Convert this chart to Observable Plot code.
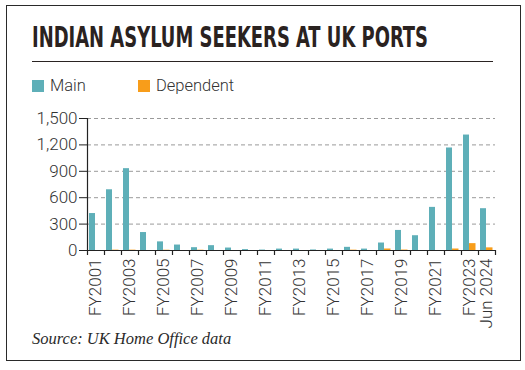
<!DOCTYPE html>
<html>
<head>
<meta charset="utf-8">
<script src="https://cdn.jsdelivr.net/npm/d3@7"></script>
<script src="https://cdn.jsdelivr.net/npm/@observablehq/plot@0.6"></script>
<style>
  html, body { margin: 0; padding: 0; background: #fff; }
  #wrap { position: relative; width: 525px; height: 370px; overflow: hidden; background: #fff; }
  #frame { position: absolute; left: 6px; top: 5px; width: 513px; height: 354px; border: 1.5px solid #2a2a2a; }
  #title { position: absolute; left: 32px; top: 22px; font-family: "DejaVu Sans Condensed", "DejaVu Sans", sans-serif; font-weight: bold; font-size: 28px; line-height: 32px; color: #2a2220; white-space: nowrap; transform-origin: 0 0; }
  #rule { position: absolute; left: 32px; top: 61px; width: 461px; height: 0; border-top: 1.5px solid #2a2322; }
  .leg { position: absolute; top: 76px; font-family: Roboto, "Liberation Sans", sans-serif; font-weight: 300; font-size: 16.5px; color: #333; display: flex; align-items: center; }
  .sw { display: inline-block; width: 12px; height: 12px; margin-right: 6px; }
  #chart { position: absolute; left: 0; top: 100px; }
  #source { position: absolute; left: 32px; top: 329px; font-family: "Liberation Serif", "DejaVu Serif", serif; font-style: italic; font-size: 16.5px; color: #2a2a2a; }
</style>
</head>
<body>
<div id="wrap">
  <div id="frame"></div>
  <div id="title">INDIAN ASYLUM SEEKERS AT UK PORTS</div>
  <div id="rule"></div>
  <div class="leg" style="left:32px"><span class="sw" style="background:#5eafb8"></span>Main</div>
  <div class="leg" style="left:138px"><span class="sw" style="background:#f89d1a"></span>Dependent</div>
  <div id="chart"></div>
  <div id="source">Source: UK Home Office data</div>
</div>
<script>
const categories = ["FY2001","FY2002","FY2003","FY2004","FY2005","FY2006","FY2007","FY2008","FY2009","FY2010","FY2011","FY2012","FY2013","FY2014","FY2015","FY2016","FY2017","FY2018","FY2019","FY2020","FY2021","FY2022","FY2023","Jun 2024"];
const mainValues = [420, 690, 930, 204, 98, 62, 32, 55, 28, 10, 5, 16, 16, 6, 16, 36, 16, 85, 228, 168, 490, 1165, 1312, 475];
const dependentValues = [0, 4, 4, 0, 3, 0, 3, 0, 0, 0, 0, 0, 0, 0, 0, 4, 0, 17, 5, 0, 0, 17, 78, 30];
const yTicks = [0, 300, 600, 900, 1200, 1500];
const xTickLabels = ["FY2001","FY2003","FY2005","FY2007","FY2009","FY2011","FY2013","FY2015","FY2017","FY2019","FY2021","FY2023","Jun 2024"];
const seriesColors = {Main: "#5eafb8", Dependent: "#f89d1a"};

const mainData = categories.map((c, i) => ({cat: c, value: mainValues[i]}));
const depData = categories.map((c, i) => ({cat: c, value: dependentValues[i]}));

// fit title width
const titleEl = document.getElementById("title");
const tw = titleEl.getBoundingClientRect().width;
titleEl.style.transform = `scaleX(${396 / tw})`;

const W = 525, H = 230, mL = 87, mR = 30, mT = 18, mB = 80;
const bw = (W - mL - mR) / categories.length;
const fontFam = "Roboto, 'Liberation Sans', sans-serif";
const fmt = d3.format(",");

const chart = Plot.plot({
  width: W, height: H,
  marginLeft: mL, marginRight: mR, marginTop: mT, marginBottom: mB,
  style: {fontFamily: fontFam, color: "#333", background: "transparent"},
  x: {type: "band", domain: categories, padding: 0},
  y: {domain: [0, 1500]},
  marks: [
    Plot.gridY(yTicks, {stroke: "#9a9a9a", strokeOpacity: 1, strokeDasharray: "4,3", strokeWidth: 1}),
    Plot.barY(mainData, {x: "cat", y: "value", fill: seriesColors.Main, insetLeft: 2, insetRight: bw - 8}),
    Plot.barY(depData, {x: "cat", y: "value", fill: seriesColors.Dependent, insetLeft: 8, insetRight: bw - 14.5}),
    Plot.ruleY([0], {stroke: "#222", strokeWidth: 1.2}),
    Plot.ruleX([categories[0]], {x: d => d, dx: -bw / 2, stroke: "#222", strokeWidth: 1.2}),
    Plot.ruleX(categories, {x: d => d, dx: -bw / 2, stroke: "#222", strokeWidth: 1.2, insetTop: H - mT - mB, insetBottom: -5}),
    Plot.ruleX([categories[categories.length - 1]], {x: d => d, dx: bw / 2, stroke: "#222", strokeWidth: 1.2, insetTop: H - mT - mB, insetBottom: -5}),
    Plot.axisY(yTicks, {tickFormat: d => fmt(d), tickSize: 8, tickPadding: 2, fontSize: 17, fontWeight: 300, stroke: "#222", fill: "#333", label: null}),
    Plot.axisX(xTickLabels, {tickSize: 0, tickRotate: -90, tickPadding: 8, fontSize: 17, fontWeight: 300, fill: "#333", label: null})
  ]
});
document.getElementById("chart").appendChild(chart);
</script>
</body>
</html>
